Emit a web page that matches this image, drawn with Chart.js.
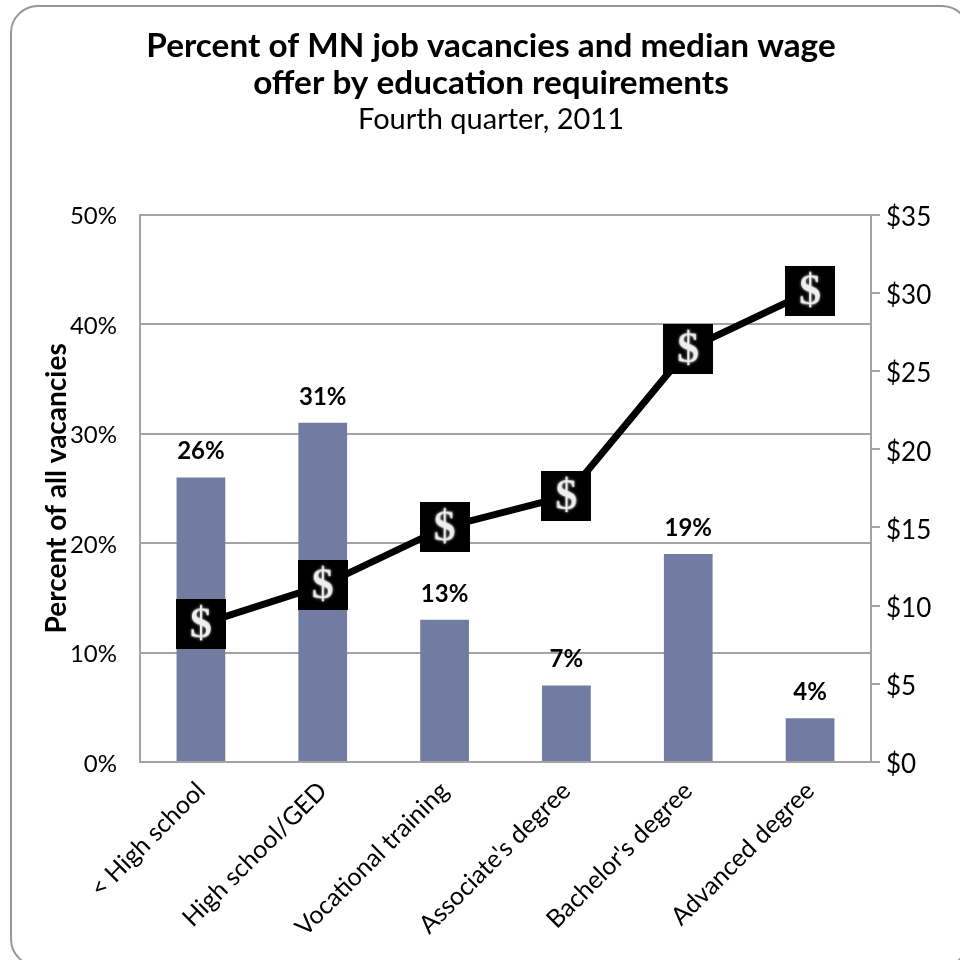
<!DOCTYPE html>
<html>
<head>
<meta charset="utf-8">
<style>
  html, body { margin: 0; padding: 0; background: #fff; overflow: hidden; }
  #wrap { position: relative; width: 960px; height: 960px; overflow: hidden; }
  #frame { position: absolute; left: 10px; top: 5px; width: 956px; height: 958px; border: 2px solid #979797; border-radius: 28px; }
  #c { position: absolute; left: 0; top: 0; }
</style>
</head>
<body>
<div id="wrap">
  <div id="frame"></div>
  <canvas id="c" width="960" height="960"></canvas>
</div>
<script src="https://cdn.jsdelivr.net/npm/chart.js@4"></script>
<script>
const categories = ["< High school", "High school/GED", "Vocational training", "Associate's degree", "Bachelor's degree", "Advanced degree"];
const vacancyShare = [26, 31, 13, 7, 19, 4];
const medianWage = [8.8, 11.3, 15.0, 17.0, 26.4, 30.1];
const titleLines = ["Percent of MN job vacancies and median wage", "offer by education requirements"];
const subtitleText = "Fourth quarter, 2011";

const FONT = "Lato, 'Open Sans', sans-serif";
const GREY = '#a3a3a3';

// black square with a white dollar sign, used as the line's point marker
function dollarMarker() {
    const m = document.createElement('canvas');
    m.width = 50;
    m.height = 50;
    const g = m.getContext('2d');
    g.fillStyle = '#000';
    g.fillRect(0, 0, 50, 50);
    g.font = "bold 44px 'Liberation Serif'";
    g.textAlign = 'center';
    g.textBaseline = 'middle';
    g.shadowColor = 'rgba(255,255,255,0.7)';
    g.shadowBlur = 3;
    g.fillStyle = '#eeeeee';
    g.fillText('$', 25, 27);
    return m;
}

const barLabels = {
    id: 'barLabels',
    afterDatasetsDraw(chart) {
        const ctx = chart.ctx;
        const meta = chart.getDatasetMeta(1);
        ctx.save();
        ctx.font = 'bold 24px ' + FONT;
        ctx.fillStyle = '#000';
        ctx.textAlign = 'center';
        ctx.textBaseline = 'alphabetic';
        meta.data.forEach((bar, i) => {
            ctx.fillText(vacancyShare[i] + '%', bar.x, bar.y - 18);
        });
        ctx.restore();
    }
};

new Chart(document.getElementById('c'), {
    data: {
        labels: categories,
        datasets: [
            {
                type: 'line',
                label: 'Median wage offer',
                data: medianWage,
                yAxisID: 'y2',
                borderColor: '#000',
                borderWidth: 7,
                tension: 0,
                pointStyle: dollarMarker(),
                order: 0
            },
            {
                type: 'bar',
                label: 'Percent of all vacancies',
                data: vacancyShare,
                yAxisID: 'y',
                backgroundColor: '#727ca3',
                barPercentage: 0.4,
                categoryPercentage: 1,
                order: 1
            }
        ]
    },
    plugins: [barLabels],
    options: {
        responsive: false,
        animation: false,
        layout: { padding: { top: 0, right: 0, bottom: 0, left: 22 } },
        plugins: {
            legend: { display: false },
            tooltip: { enabled: false },
            title: {
                display: true,
                text: titleLines,
                color: '#000',
                font: { family: FONT, size: 33.3, weight: 'bold', lineHeight: 1.11 },
                padding: { top: 28, bottom: 0 }
            },
            subtitle: {
                display: true,
                text: subtitleText,
                color: '#000',
                font: { family: FONT, size: 29, lineHeight: 1.2 },
                padding: { top: 0, bottom: 78 }
            }
        },
        scales: {
            x: {
                grid: { display: false, drawTicks: false },
                border: { color: GREY, width: 2 },
                ticks: {
                    color: '#000',
                    font: { family: FONT, size: 25 },
                    minRotation: 45,
                    maxRotation: 45,
                    padding: 14
                },
                afterFit(axis) { axis.height = 198; }
            },
            y: {
                position: 'left',
                min: 0,
                max: 50,
                grid: { color: GREY, lineWidth: 2, drawTicks: false },
                border: { color: GREY, width: 2 },
                ticks: {
                    stepSize: 10,
                    color: '#000',
                    font: { family: FONT, size: 24 },
                    padding: 23,
                    labelOffset: 2,
                    callback: v => v + '%'
                },
                title: {
                    display: true,
                    text: 'Percent of all vacancies',
                    color: '#000',
                    font: { family: FONT, size: 28, weight: 'bold' },
                    padding: { top: 18, bottom: 0 }
                },
                afterFit(axis) { axis.width = 118; }
            },
            y2: {
                position: 'right',
                min: 0,
                max: 35,
                grid: { drawOnChartArea: false, color: GREY, lineWidth: 2, tickLength: 9 },
                border: { color: GREY, width: 2 },
                ticks: {
                    stepSize: 5,
                    color: '#000',
                    font: { family: FONT, size: 26 },
                    padding: 6,
                    labelOffset: 3,
                    callback: v => '$' + v
                },
                afterFit(axis) { axis.width = 89; }
            }
        }
    }
});
</script>
</body>
</html>
